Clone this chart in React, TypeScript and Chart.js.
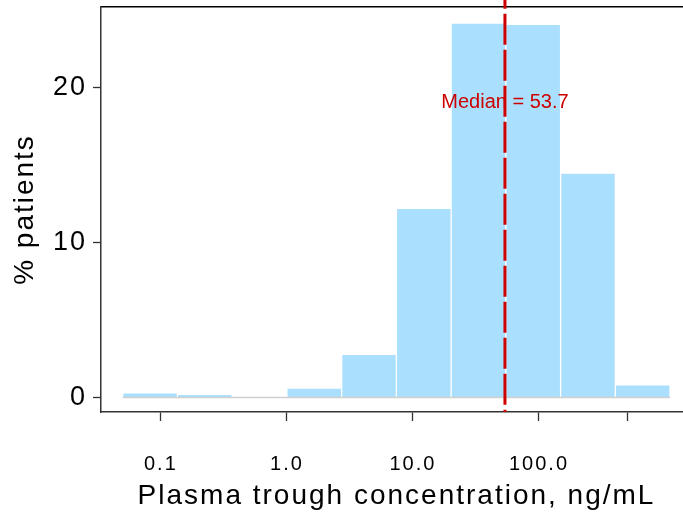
import React, { useEffect, useRef } from 'react';
import { Chart, registerables } from 'chart.js';

Chart.register(...registerables);

// Histogram bins: edges are at e^k (natural-log bins), plotted on a log10 axis
const binEdgesLn = [-3, -2, -1, 0, 1, 2, 3, 4, 5, 6, 7];
const percentPatients = [0.3, 0.21, 0, 0.6, 2.79, 12.2, 24.16, 24.08, 14.48, 0.82];
const xTickValues = [0.1, 1, 10, 100, 500];
const xTickLabels = ['0.1', '1.0', '10.0', '100.0', ''];
const yTickValues = [0, 10, 20];
const medianValue = 53.7;
const medianLabel = 'Median = 53.7';
const medianLabelY = 19.06;

const FONT = "'Liberation Sans', Arial, Helvetica, sans-serif";
const LN10 = Math.log(10);
const X_MIN = -1.475;
const X_MAX = 3.214;
const Y_MIN = -0.935;
const Y_MAX = 25.19;

const spacingPlugin = {
  id: 'letterSpacing',
  beforeDraw(chart: any) {
    chart.ctx.letterSpacing = '2px';
  },
};

const medianLabelPlugin = {
  id: 'medianLabel',
  afterDatasetsDraw(chart: any) {
    const { ctx, scales } = chart;
    const x = scales.x.getPixelForValue(Math.log10(medianValue));
    const y = scales.y.getPixelForValue(medianLabelY);
    ctx.save();
    ctx.letterSpacing = '0px';
    ctx.font = `20px ${FONT}`;
    ctx.fillStyle = '#CD0000';
    ctx.textAlign = 'center';
    ctx.textBaseline = 'middle';
    ctx.fillText(medianLabel, x, y);
    ctx.restore();
  },
};

export default function App() {
  const canvasRef = useRef<HTMLCanvasElement | null>(null);

  useEffect(() => {
    if (!canvasRef.current) return;
    const centers = percentPatients.map((_, i) => (binEdgesLn[i] + binEdgesLn[i + 1]) / 2 / LN10);
    const barData = percentPatients.map((v, i) => ({ x: centers[i], y: v }));
    const firstEdge = binEdgesLn[0] / LN10;
    const lastEdge = binEdgesLn[binEdgesLn.length - 1] / LN10;
    const mx = Math.log10(medianValue);

    const chart = new Chart(canvasRef.current, {
      type: 'bar',
      data: {
        datasets: [
          {
            type: 'bar',
            data: barData,
            backgroundColor: '#AAE0FD',
            borderColor: '#FFFFFF',
            borderWidth: 1,
            categoryPercentage: 1,
            barPercentage: 1,
            order: 3,
          } as any,
          {
            type: 'line',
            data: [
              { x: firstEdge, y: 0 },
              { x: lastEdge, y: 0 },
            ],
            borderColor: '#D0D0D0',
            borderWidth: 1.5,
            pointRadius: 0,
            order: 2,
          } as any,
          {
            type: 'line',
            data: [
              { x: mx, y: 26.5 },
              { x: mx, y: Y_MIN },
            ],
            borderColor: '#CD0000',
            borderWidth: 3,
            borderDash: [31, 5],
            borderDashOffset: 9,
            pointRadius: 0,
            clip: false,
            order: 1,
          } as any,
        ],
      },
      options: {
        responsive: false,
        animation: false,
        layout: { padding: 0 },
        plugins: { legend: { display: false }, tooltip: { enabled: false } },
        scales: {
          x: {
            type: 'linear',
            position: 'bottom',
            min: X_MIN,
            max: X_MAX,
            offset: false,
            afterBuildTicks: (s: any) => {
              s.ticks = xTickValues.map((v) => ({ value: Math.log10(v) }));
            },
            afterFit: (s: any) => {
              s.height = 106;
              s.paddingLeft = 0;
              s.paddingRight = 0;
            },
            ticks: {
              autoSkip: false,
              maxRotation: 0,
              minRotation: 0,
              callback: (_v: any, i: number) => xTickLabels[i],
              font: { size: 20, family: FONT },
              color: '#000000',
              padding: 31,
            },
            grid: { offset: false, drawOnChartArea: false, drawTicks: true, tickLength: 9, tickColor: '#333333', tickWidth: 1.3 },
            border: { display: true, color: '#333333', width: 1.5 },
            title: {
              display: true,
              text: 'Plasma trough concentration, ng/mL',
              font: { size: 28, family: FONT },
              color: '#000000',
              padding: { top: 0, bottom: 5 },
            },
          },
          xTop: {
            type: 'linear',
            position: 'top',
            min: X_MIN,
            max: X_MAX,
            afterFit: (s: any) => {
              s.height = 7;
              s.paddingLeft = 0;
              s.paddingRight = 0;
            },
            ticks: { display: false },
            grid: { display: false },
            border: { display: true, color: '#000000', width: 1.5 },
          },
          y: {
            type: 'linear',
            min: Y_MIN,
            max: Y_MAX,
            afterBuildTicks: (s: any) => {
              s.ticks = yTickValues.map((v) => ({ value: v }));
            },
            afterFit: (s: any) => {
              s.width = 101;
              s.paddingTop = 0;
              s.paddingBottom = 0;
            },
            ticks: { font: { size: 27, family: FONT }, color: '#000000', padding: 6 },
            grid: { drawOnChartArea: false, drawTicks: true, tickLength: 8, tickColor: '#333333', tickWidth: 1.3 },
            border: { display: true, color: '#333333', width: 1.5 },
            title: {
              display: true,
              text: '% patients',
              font: { size: 28, family: FONT },
              color: '#000000',
              padding: { top: 8, bottom: 0 },
            },
          },
        },
      } as any,
      plugins: [spacingPlugin, medianLabelPlugin],
    });
    return () => chart.destroy();
  }, []);

  return (
    <div style={{ position: 'fixed', left: 0, top: 0, width: 683, height: 518, overflow: 'hidden', background: '#fff' }}>
      <canvas ref={canvasRef} width={692} height={518} style={{ display: 'block' }} />
    </div>
  );
}
